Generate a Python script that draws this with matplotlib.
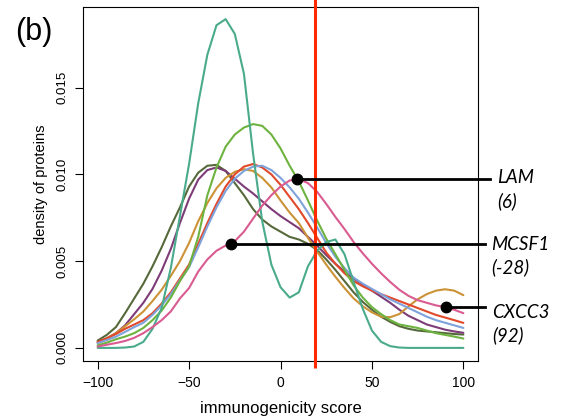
import matplotlib
matplotlib.use("Agg")
import matplotlib.pyplot as plt

# immunogenicity score grid where the curves were read (every 5 units)
score = list(range(-100, 101, 5))

# density values (x 0.001)
teal = [0, 0, 0, 0.02, 0.08, 0.35, 1.1, 2.3, 4.6, 7.6, 10.6, 14.1, 16.9, 18.6, 18.95,
        18.1, 15.8, 11.2, 7.3, 4.8, 3.5, 2.9, 3.2, 4.7, 5.6, 6.1, 6.25, 5.4, 3.8, 2.25,
        1.0, 0.35, 0.1, 0.02, 0, 0, 0, 0, 0, 0, 0]
green = [0.15, 0.3, 0.5, 0.65, 0.85, 1.15, 1.6, 2.15, 2.9, 3.85, 4.7, 6.4, 8.8, 10.4, 11.6,
         12.3, 12.7, 12.9, 12.8, 12.3, 11.5, 10.5, 9.6, 8.5, 7.35, 6.3, 5.4, 4.5, 3.6, 2.9,
         2.35, 1.95, 1.6, 1.35, 1.25, 1.15, 1.0, 0.85, 0.75, 0.65, 0.54]
olive = [0.42, 0.75, 1.2, 2.0, 2.85, 3.7, 4.7, 5.8, 7.0, 8.1, 9.3, 10.1, 10.5, 10.55, 10.2,
         9.5, 8.8, 8.0, 7.4, 7.0, 6.7, 6.4, 6.25, 6.0, 5.65, 5.1, 4.5, 3.85, 3.2, 2.65,
         2.2, 1.8, 1.5, 1.25, 1.1, 1.0, 0.95, 0.9, 0.85, 0.8, 0.77]
purple = [0.33, 0.55, 0.85, 1.3, 1.95, 2.6, 3.4, 4.45, 5.7, 7.2, 8.6, 9.7, 10.25, 10.4, 10.2,
          9.75, 9.3, 8.9, 8.45, 8.0, 7.6, 7.25, 6.9, 6.4, 5.9, 5.35, 4.85, 4.4, 4.0, 3.65,
          3.3, 2.95, 2.6, 2.2, 1.85, 1.6, 1.35, 1.2, 1.05, 0.95, 0.87]
orange = [0.3, 0.55, 0.85, 1.25, 1.65, 2.1, 2.7, 3.35, 4.15, 5.0, 6.05, 7.3, 8.35, 9.2, 9.8,
          10.15, 10.3, 10.2, 9.8, 9.25, 8.5, 7.8, 7.2, 6.35, 5.55, 4.8, 4.1, 3.45, 2.85, 2.4,
          2.05, 1.8, 1.77, 1.95, 2.4, 2.8, 3.1, 3.3, 3.38, 3.3, 3.04]
red = [0.35, 0.55, 0.8, 1.1, 1.35, 1.6, 2.0, 2.55, 3.2, 4.0, 4.8, 6.0, 7.2, 8.3, 9.3,
       10.0, 10.45, 10.6, 10.4, 10.0, 9.4, 8.7, 8.0, 7.2, 6.35, 5.5, 4.85, 4.3, 3.85, 3.55,
       3.3, 3.1, 2.9, 2.7, 2.5, 2.3, 2.1, 1.9, 1.75, 1.6, 1.44]
blue = [0.27, 0.45, 0.65, 0.92, 1.2, 1.45, 1.9, 2.45, 3.1, 3.9, 4.65, 5.8, 7.0, 8.1, 9.05,
        9.75, 10.2, 10.45, 10.5, 10.25, 9.8, 9.25, 8.6, 7.8, 6.95, 6.05, 5.25, 4.6, 4.05, 3.7,
        3.4, 3.1, 2.8, 2.55, 2.3, 2.05, 1.8, 1.6, 1.45, 1.3, 1.15]
pink = [0.08, 0.18, 0.28, 0.4, 0.58, 0.85, 1.2, 1.6, 2.1, 2.85, 3.45, 4.4, 5.1, 5.6, 5.9,
        6.15, 6.7, 7.45, 8.2, 8.8, 9.3, 9.65, 9.72, 9.5, 9.0, 8.3, 7.55, 6.85, 6.1, 5.45,
        4.85, 4.3, 3.8, 3.35, 3.0, 2.75, 2.6, 2.45, 2.35, 2.2, 2.0]

curves = [
    (olive, "#56693a"),
    (purple, "#7d3c78"),
    (orange, "#cc9236"),
    (red, "#e2492b"),
    (blue, "#7ea2da"),
    (green, "#6db33f"),
    (teal, "#4aab8c"),
    (pink, "#d95b91"),
]

threshold = 19

# highlighted proteins
proteins = ["LAM", "MCSF1", "CXCC3"]
protein_scores = ["(6)", "(-28)", "(92)"]
dot_x = [9, -27, 90.5]
dot_y = [9.73, 6.0, 2.33]

plt.rcParams['font.family'] = ['Liberation Sans', 'DejaVu Sans']

fig = plt.figure(figsize=(5.64, 4.19), dpi=100)
ax = fig.add_axes([0.1472, 0.1384, 0.7003, 0.8449])

for vals, col in curves:
    ax.plot(score, [v / 1000 for v in vals], color=col, lw=1.5,
            solid_capstyle='round', solid_joinstyle='round')

ax.vlines(threshold, -0.00117, 0.0201, color="#ff2a00", lw=2.2, clip_on=False, zorder=5)

line_end = [114.6, 111.9, 111.9]
text_x = [118.3, 115.0, 115.5]
for i in range(len(proteins)):
    y = dot_y[i] / 1000
    ax.plot([dot_x[i], line_end[i]], [y, y], color="black", lw=2, clip_on=False, zorder=6)
    ax.plot(dot_x[i], y, "o", color="black", ms=7.5, clip_on=False, zorder=7)

label_base = [9.48, 5.63, 1.75]
score_base = [8.13, 4.33, 0.40]
for i in range(len(proteins)):
    ax.text(text_x[i], label_base[i] / 1000, proteins[i], fontsize=13.5, style='italic',
            family='Lato', va='baseline', ha='left', clip_on=False)
    ax.text(text_x[i], score_base[i] / 1000, protein_scores[i], fontsize=13.5, style='italic',
            family='Lato', va='baseline', ha='left', clip_on=False)

ax.set_xlim(-108, 108)
ax.set_ylim(-0.000756, 0.01965)
ax.set_xticks([-100, -50, 0, 50, 100])
ax.set_yticks([0, 0.005, 0.010, 0.015])
ax.set_yticklabels(["0.000", "0.005", "0.010", "0.015"])
ax.tick_params(direction='out', length=5.5, width=0.8, labelsize=10, pad=5)
ax.tick_params(axis='y', labelrotation=90, labelsize=9.5)
for lab in ax.get_yticklabels():
    lab.set_va('center')
for sp in ax.spines.values():
    sp.set_linewidth(0.8)

ax.set_xlabel("immunogenicity score", fontsize=12, labelpad=8)
ax.set_ylabel("density of proteins", fontsize=10.5, labelpad=6)

fig.text(0.027, 0.924, "(b)", fontsize=22, va='center', ha='left')

fig.savefig("out.png", dpi=100)
